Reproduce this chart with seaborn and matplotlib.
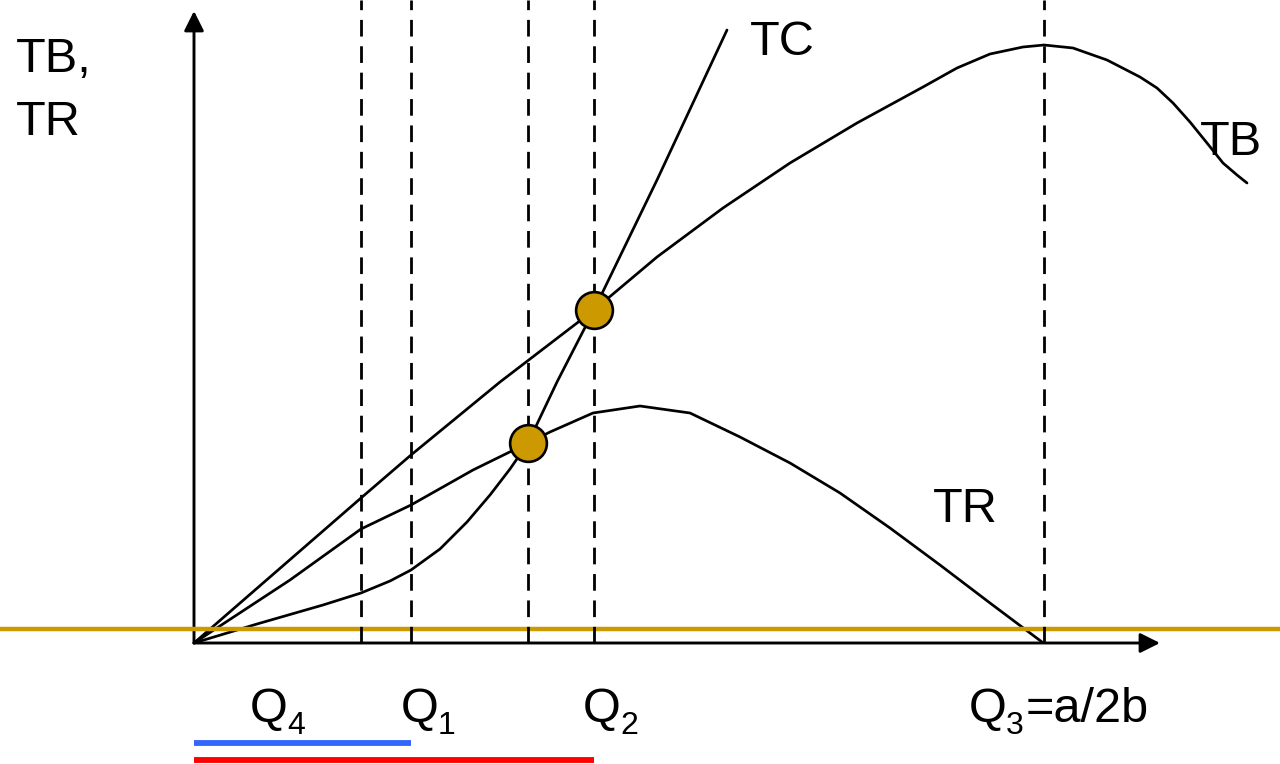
import numpy as np
import seaborn as sns
import matplotlib.pyplot as plt

# ---- du lieu doc tu hinh (don vi: pixel tinh tu goc toa do) ----
q_levels = {"Q4": 167, "Q1": 217, "Qm": 334, "Q2": 400, "Q3": 850}

tb_x = [0, 167, 217, 306, 400, 463, 529, 596, 663, 729, 763, 796, 829, 850,
        879, 913, 946, 963, 979, 996, 1013, 1029, 1043, 1053]
tb_y = [0, 145, 188, 261, 333, 386, 435, 480, 520, 556, 575, 589, 596, 598,
        595, 583, 566, 555, 540, 521, 500, 480, 468, 460]

tr_x = [0, 96, 167, 217, 279, 334, 356, 399, 446, 496, 546, 596, 646, 696, 746, 796, 848]
tr_y = [0, 63, 114, 138, 173, 200, 211, 230, 237, 230, 206, 180, 150, 115, 78, 40, 1]

tc_x = [0, 63, 129, 167, 196, 217, 246, 273, 296, 316, 334, 363, 400, 463, 533]
tc_y = [0, 19, 38, 50, 62, 73, 94, 121, 148, 174, 200, 261, 333, 463, 613]

dots_x = [334, 400]
dots_y = [200, 333]

gold_level = 14.5
x_axis_end = 966
y_axis_end = 632

GOLD = "#CC9900"
FONT = "Liberation Sans"

sns.set_theme(style="white")
plt.rcParams["font.family"] = [FONT, "DejaVu Sans"]
plt.rcParams["text.color"] = "black"

fig = plt.figure(figsize=(12.8, 7.64), dpi=100)
ax = fig.add_axes([0, 0, 1, 1])
ax.set_xlim(-194, 1086)
ax.set_ylim(-121, 643)
ax.axis("off")

# truc toa do co mui ten
arrow = dict(arrowstyle="-|>", color="black", lw=2.1, mutation_scale=30,
             shrinkA=0, shrinkB=0)
ax.annotate("", xy=(0, y_axis_end), xytext=(0, 0), arrowprops=arrow, zorder=3)
ax.annotate("", xy=(x_axis_end, 0), xytext=(0, 0), arrowprops=arrow, zorder=3)

# duong net dut
ax.vlines(list(q_levels.values()), 0, 643, colors="black", lw=2.0,
          linestyles=(0, (6.0, 3.5)), zorder=4)

# cac duong cong TB, TR, TC
for xs, ys in [(tb_x, tb_y), (tr_x, tr_y), (tc_x, tc_y)]:
    sns.lineplot(x=xs, y=ys, ax=ax, color="black", lw=1.95, estimator=None,
                 sort=False, zorder=2, solid_joinstyle="round")

# duong ngang mau vang
ax.axhline(gold_level, color=GOLD, lw=3.2, zorder=3)

# diem giao nhau
sns.scatterplot(x=dots_x, y=dots_y, ax=ax, s=700, color=GOLD,
                edgecolor="black", linewidth=1.9, zorder=6)

# doan xanh / do duoi truc
ax.hlines(-100, 0, q_levels["Q1"], colors="#3366FF", lw=4.2, zorder=3)
ax.hlines(-117, 0, q_levels["Q2"], colors="#FF0000", lw=4.2, zorder=3)

# chu
fs = 35
sub_fs = 23
ax.text(-178, 571, "TB,", fontsize=fs, va="baseline", ha="left")
ax.text(-178, 508, "TR", fontsize=fs, va="baseline", ha="left")
ax.text(556, 588, "TC", fontsize=fs, va="baseline", ha="left")
ax.text(1006, 488, "TB", fontsize=fs, va="baseline", ha="left")
ax.text(739, 121, "TR", fontsize=fs, va="baseline", ha="left")

q_labels = [(56, "4", ""), (207, "1", ""), (389, "2", ""), (775, "3", "=a/2b")]
for lx, sub, rest in q_labels:
    ax.text(lx, -79, "Q", fontsize=fs, va="baseline", ha="left")
    ax.text(lx + 37, -91, sub, fontsize=sub_fs, va="baseline", ha="left")
    if rest:
        ax.text(lx + 57, -79, rest, fontsize=fs, va="baseline", ha="left")

fig.savefig("out.png", dpi=100)
